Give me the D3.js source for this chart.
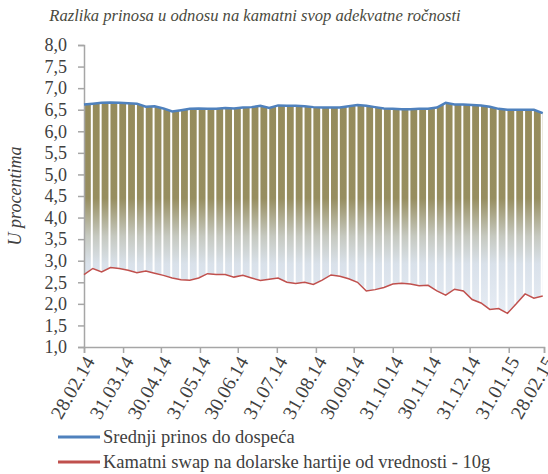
<!DOCTYPE html>
<html>
<head>
<meta charset="utf-8">
<script src="https://cdn.jsdelivr.net/npm/d3@7"></script>
</head>
<body style="margin:0">
<div id="chart"></div>
<script>
// weekly observations, 28.02.2014 - 27.02.2015
var startDate = '2014-02-28'
var prinos = [6.62, 6.64, 6.66, 6.67, 6.66, 6.65, 6.64, 6.57, 6.58, 6.53,
	6.46, 6.49, 6.52, 6.53, 6.52, 6.52, 6.54, 6.53, 6.55, 6.56,
	6.59, 6.54, 6.60, 6.59, 6.59, 6.58, 6.56, 6.55, 6.55, 6.55,
	6.58, 6.61, 6.59, 6.56, 6.53, 6.52, 6.51, 6.51, 6.52, 6.52,
	6.55, 6.66, 6.62, 6.62, 6.61, 6.60, 6.57, 6.52, 6.50, 6.50,
	6.50, 6.50, 6.42]
var swap = [2.68, 2.82, 2.74, 2.84, 2.82, 2.78, 2.72, 2.76, 2.71, 2.66,
	2.60, 2.56, 2.55, 2.60, 2.70, 2.68, 2.68, 2.62, 2.66, 2.60,
	2.54, 2.57, 2.60, 2.50, 2.47, 2.50, 2.45, 2.55, 2.67, 2.64,
	2.58, 2.50, 2.30, 2.33, 2.38, 2.46, 2.48, 2.46, 2.42, 2.43,
	2.30, 2.20, 2.34, 2.30, 2.10, 2.02, 1.87, 1.89, 1.78, 2.00,
	2.23, 2.13, 2.18]
var tickLabels = ['28.02.14', '31.03.14', '30.04.14', '31.05.14', '30.06.14', '31.07.14',
	'31.08.14', '30.09.14', '31.10.14', '30.11.14', '31.12.14', '31.01.15', '28.02.15']
var yTicks = [1, 1.5, 2, 2.5, 3, 3.5, 4, 4.5, 5, 5.5, 6, 6.5, 7, 7.5, 8]
var seriesNames = ['Srednji prinos do dospeća', 'Kamatni swap na dolarske hartije od vrednosti - 10g']
var seriesColors = ['#4f81bd', '#c0504d']

var font = "'Liberation Serif'"
var parse = d3.timeParse('%d.%m.%y')
var t0 = d3.timeParse('%Y-%m-%d')(startDate)
var data = prinos.map(function(v, i) {
	return {date: d3.timeDay.offset(t0, 7 * i), hi: v, lo: swap[i]}
})

var width = 548, height = 474
var margin = {top: 45, left: 84, right: 4, bottom: 127}

var svg = d3.select('#chart').append('svg')
	.attr('width', width).attr('height', height)

var x = d3.scaleTime()
	.domain([parse(tickLabels[0]), parse(tickLabels[tickLabels.length - 1])])
	.range([margin.left, width - margin.right])
var y = d3.scaleLinear().domain([1, 8]).range([height - margin.bottom, margin.top])

// gradient for the spread area
var defs = svg.append('defs')
var grad = defs.append('linearGradient').attr('id', 'spread')
	.attr('gradientUnits', 'userSpaceOnUse')
	.attr('x1', 0).attr('x2', 0).attr('y1', y(6.7)).attr('y2', y(1.8))
grad.selectAll('stop').data([
	{o: 0, c: '#958b5b'},
	{o: 0.46, c: '#978e60'},
	{o: 0.64, c: '#c6c9c0'},
	{o: 0.77, c: '#d9e1ea'},
	{o: 1, c: '#e6ecf4'}
]).enter().append('stop')
	.attr('offset', function(d) { return d.o })
	.attr('stop-color', function(d) { return d.c })

svg.append('path').datum(data)
	.attr('fill', 'url(#spread)')
	.attr('d', d3.area()
		.x(function(d) { return x(d.date) })
		.y0(function(d) { return y(d.lo) })
		.y1(function(d) { return y(d.hi) }))

// white separators between weekly columns
svg.append('g').selectAll('line').data(data.slice(1))
	.enter().append('line')
	.attr('x1', function(d) { return x(d.date) - 1 })
	.attr('x2', function(d) { return x(d.date) - 1 })
	.attr('y1', function(d) { return y(d.hi) })
	.attr('y2', function(d) { return y(d.lo) })
	.attr('stroke', '#fff').attr('stroke-width', 2)

// axes
var yAxis = svg.append('g')
	.attr('transform', 'translate(' + margin.left + ',0)')
	.call(d3.axisLeft(y).tickValues(yTicks).tickSize(6).tickPadding(11)
		.tickFormat(function(d) { return d3.format('.1f')(d).replace('.', ',') }))
var xAxis = svg.append('g')
	.attr('transform', 'translate(0,' + y(1) + ')')
	.call(d3.axisBottom(x).tickValues(tickLabels.map(parse)).tickSize(6)
		.tickFormat(d3.timeFormat('%d.%m.%y')))

svg.selectAll('.domain, .tick line').attr('stroke', '#a6a6a6').attr('stroke-width', 1.5)
yAxis.attr('font-family', null)
xAxis.attr('font-family', null)
yAxis.selectAll('text').style('font-family', font).style('font-size', '18px').attr('fill', '#404040')
xAxis.selectAll('text').style('font-family', font).style('font-size', '19.5px').attr('fill', '#404040')
	.attr('text-anchor', 'end')
	.attr('transform', 'translate(5,11) rotate(-60)')
	.attr('dx', 0).attr('dy', '0.35em').attr('y', 0)

// series lines
var line = function(key) {
	return d3.line().x(function(d) { return x(d.date) }).y(function(d) { return y(d[key]) })
}
svg.append('path').datum(data).attr('fill', 'none')
	.attr('stroke', seriesColors[1]).attr('stroke-width', 1.5).attr('d', line('lo'))
svg.append('path').datum(data).attr('fill', 'none')
	.attr('stroke', seriesColors[0]).attr('stroke-width', 2.5).attr('d', line('hi'))

// title and y label
svg.append('text').attr('x', 255).attr('y', 21).attr('text-anchor', 'middle')
	.style('font-family', font).style('font-size', '16.6px').style('font-style', 'italic')
	.attr('fill', '#4a4a40')
	.text('Razlika prinosa u odnosu na kamatni svop adekvatne ročnosti')
svg.append('text').attr('transform', 'translate(21,196) rotate(-90)').attr('text-anchor', 'middle')
	.style('font-family', font).style('font-size', '18px').style('font-style', 'italic')
	.attr('fill', '#404040')
	.text('U procentima')

// legend
var legend = svg.append('g').selectAll('g').data(seriesNames).enter().append('g')
	.attr('transform', function(d, i) { return 'translate(58,' + (437 + i * 25) + ')' })
legend.append('line').attr('x1', 0).attr('x2', 42)
	.attr('stroke', function(d, i) { return seriesColors[i] }).attr('stroke-width', 3)
legend.append('text').attr('x', 45).attr('dy', '0.35em')
	.style('font-family', font).style('font-size', '18.5px')
	.attr('fill', '#404040')
	.text(function(d) { return d })
</script>
</body>
</html>
